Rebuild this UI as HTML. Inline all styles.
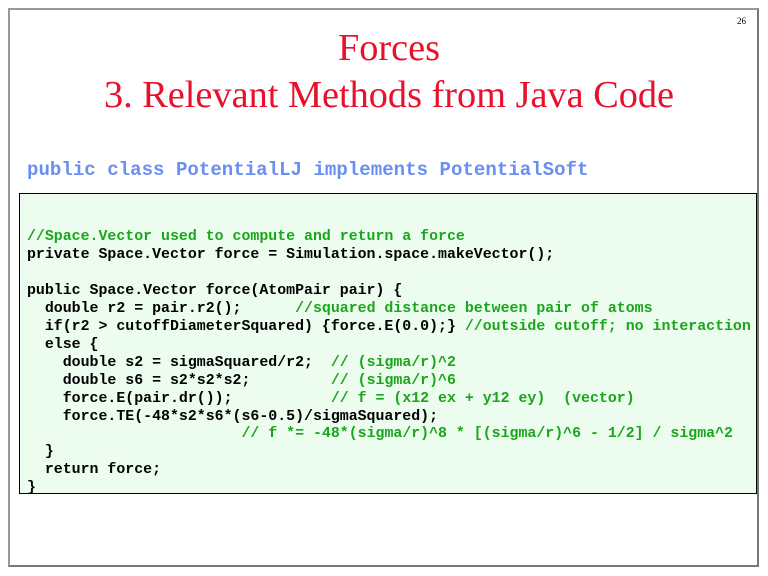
<!DOCTYPE html>
<html><head><style>
body{margin:0;background:#fff;width:768px;height:576px;overflow:hidden;position:relative}
.frame{position:absolute;left:8px;top:8px;width:751px;height:559px;border:2px solid #777;border-top-color:#999;border-left-color:#999;box-sizing:border-box}
.num{position:absolute;left:737px;top:16px;font:9px "Liberation Serif",serif}
.t{position:absolute;left:0;width:778px;text-align:center;color:#e8102a;font:38.3px "Liberation Serif",serif;line-height:47px}
.hdr{position:absolute;left:27px;top:159px;color:#6a8ff0;font:bold 19.1px "Liberation Mono",monospace;white-space:pre}
.box{position:absolute;left:19px;top:193px;width:738px;height:301px;background:#ecfcee;border:1.5px solid #000;box-sizing:border-box}
pre{position:absolute;left:27px;top:229px;margin:0;font:bold 14.9px "Liberation Mono",monospace;line-height:17.95px;color:#000}
.c{color:#1aa61a}
</style></head><body>
<div class="frame"></div>
<div class="num">26</div>
<div class="t" style="top:25px">Forces</div>
<div class="t" style="top:72px">3. Relevant Methods from Java Code</div>
<div class="hdr">public class PotentialLJ implements PotentialSoft</div>
<div class="box"></div>
<pre><span class="c">//Space.Vector used to compute and return a force</span>
private Space.Vector force = Simulation.space.makeVector();

public Space.Vector force(AtomPair pair) {
  double r2 = pair.r2();      <span class="c">//squared distance between pair of atoms</span>
  if(r2 &gt; cutoffDiameterSquared) {force.E(0.0);} <span class="c">//outside cutoff; no interaction</span>
  else {
    double s2 = sigmaSquared/r2;  <span class="c">// (sigma/r)^2</span>
    double s6 = s2*s2*s2;         <span class="c">// (sigma/r)^6</span>
    force.E(pair.dr());           <span class="c">// f = (x12 ex + y12 ey)  (vector)</span>
    force.TE(-48*s2*s6*(s6-0.5)/sigmaSquared);
                        <span class="c">// f *= -48*(sigma/r)^8 * [(sigma/r)^6 - 1/2] / sigma^2</span>
  }
  return force;
}</pre>
</body></html>
